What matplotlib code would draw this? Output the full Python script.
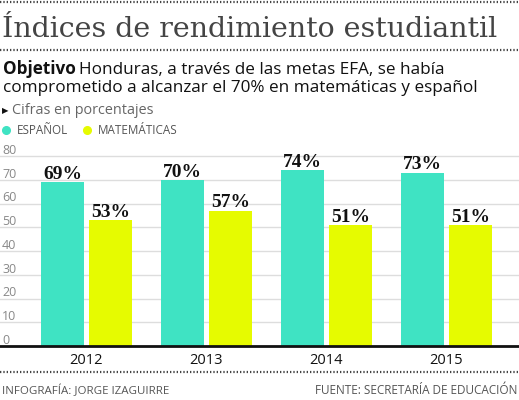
import matplotlib
matplotlib.use("Agg")
import matplotlib.pyplot as plt
from matplotlib.lines import Line2D

# datos
years = ["2012", "2013", "2014", "2015"]
espanol = [69, 70, 74, 73]
matematicas = [53, 57, 51, 51]
yticks = [0, 10, 20, 30, 40, 50, 60, 70, 80]

TEAL = "#3fe3c3"
YELLOW = "#e6fb00"
SANS = ["Open Sans", "DejaVu Sans"]

W, H = 519, 400
fig = plt.figure(figsize=(W / 100, H / 100), dpi=100)
renderer = fig.canvas.get_renderer()


def ftext(x, y, s, **kw):
    # x, y en pixeles desde arriba a la izquierda
    return fig.text(x / W, 1 - y / H, s, va="baseline", **kw)


def fit(t, width):
    bb = t.get_window_extent(renderer)
    t.set_fontsize(t.get_fontsize() * width / bb.width)
    return t.get_fontsize()


def dots(y):
    fig.add_artist(Line2D([0, 1], [1 - y / H] * 2, transform=fig.transFigure,
                          color="#444444", lw=1.6, ls=(0, (0.6, 0.9))))


# lineas punteadas
dots(2)
dots(50)
dots(372)

# titulo
t = ftext(2, 37, "Índices de rendimiento estudiantil", family="DejaVu Serif",
          color="#444444", fontsize=20)
fit(t, 495)

# subtitulo
l2 = ftext(3, 92, "comprometido a alcanzar el 70% en matemáticas y español",
           family=SANS, color="#111111", fontsize=12)
fs = fit(l2, 470)
b = ftext(3, 74, "Objetivo", family=SANS, weight="bold", color="#111111", fontsize=fs)
bw = b.get_window_extent(renderer).width
ftext(3 + bw + 3, 74, "Honduras, a través de las metas EFA, se había",
      family=SANS, color="#111111", fontsize=fs)

ftext(2, 113, "▶", family="DejaVu Sans", color="#111111", fontsize=6)
c = ftext(12, 114, "Cifras en porcentajes", family=SANS, color="#666666", fontsize=9)
fit(c, 143)

# leyenda
fig.add_artist(Line2D([6 / W], [1 - 130 / H], marker="o", ms=5.5, color=TEAL,
                      transform=fig.transFigure))
fig.add_artist(Line2D([87 / W], [1 - 130 / H], marker="o", ms=5.5, color=YELLOW,
                      transform=fig.transFigure))
e = ftext(17, 134, "ESPAÑOL", family=SANS, color="#555555", fontsize=8)
fit(e, 51)
m = ftext(98, 134, "MATEMÁTICAS", family=SANS, color="#555555", fontsize=8)
fit(m, 79)

# pie
f1 = ftext(2, 394, "INFOGRAFÍA: JORGE IZAGUIRRE", family=SANS, color="#555555", fontsize=8)
fit(f1, 166)
f2 = ftext(517, 394, "FUENTE: SECRETARÍA DE EDUCACIÓN", family=SANS, color="#555555",
           fontsize=8, ha="right")
fit(f2, 204)

# grafico
ax = fig.add_axes([0, 54 / H, 1, (346 - 146.5) / H])
ax.set_xlim(-86.5 / 120, (W - 86.5) / 120)
ax.set_ylim(0, 84)
for s in ["top", "left", "right"]:
    ax.spines[s].set_visible(False)
ax.spines["bottom"].set_linewidth(2)
ax.spines["bottom"].set_color("#111111")
ax.set_xticks([])
ax.set_yticks([])

for v in yticks[1:]:
    ax.axhline(v, color="#dddddd", lw=1, zorder=0)
for v in yticks:
    ax.annotate(str(v), xy=(0, v), xycoords=("axes fraction", "data"),
                xytext=(1.5, 1.6), textcoords="offset points", va="baseline",
                ha="left", color="#888888", fontsize=9, family=SANS)

x = list(range(len(years)))
bw = 43 / 120
ax.bar([i - 0.2 for i in x], espanol, width=bw, color=TEAL, zorder=2)
ax.bar([i + 0.2 for i in x], matematicas, width=bw, color=YELLOW, zorder=2)

for i in x:
    for dx, v in [(-0.2, espanol[i]), (0.2, matematicas[i])]:
        ax.annotate(f"{v}%", xy=(i + dx, v), xytext=(0, 2.3), textcoords="offset points",
                    ha="center", va="baseline", family="Liberation Serif",
                    weight="bold", fontsize=14, color="#111111")
    ax.annotate(years[i], xy=(i, 0), xycoords=("data", "axes fraction"),
                xytext=(0, -13), textcoords="offset points", ha="center",
                va="baseline", family=SANS, fontsize=10.5, color="#111111")

fig.savefig("out.png", dpi=100)
